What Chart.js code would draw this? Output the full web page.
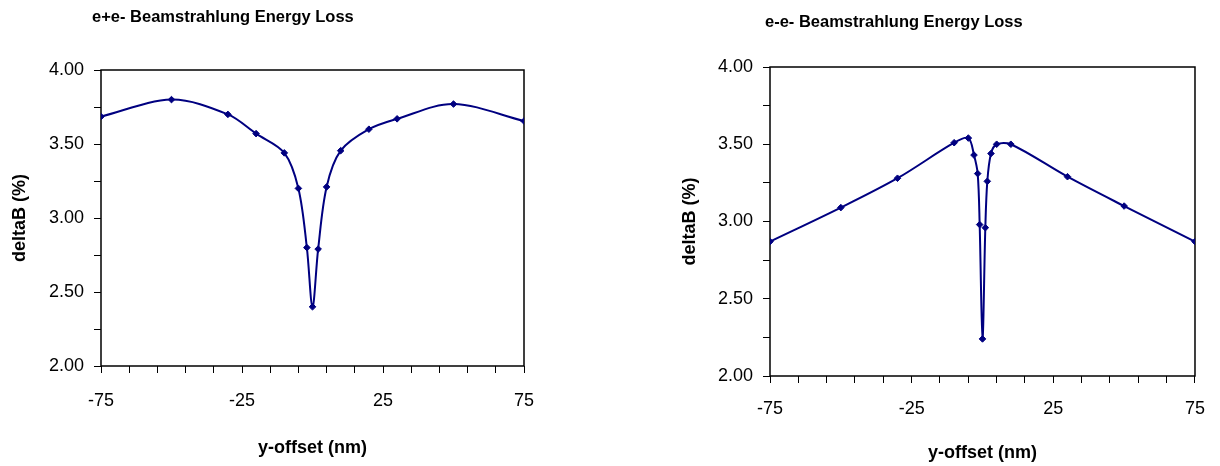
<!DOCTYPE html>
<html>
<head>
<meta charset="utf-8">
<script src="https://cdn.jsdelivr.net/npm/chart.js@4"></script>
<style>
  body { margin: 0; background: #fff; }
  #wrap { position: relative; width: 1220px; height: 466px; }
  canvas { position: absolute; top: 0; }
</style>
</head>
<body>
<div id="wrap">
  <canvas id="chartPlus" width="610" height="466" style="left:0"></canvas>
  <canvas id="chartMinus" width="610" height="466" style="left:610px"></canvas>
</div>
<script>
// e+e- collisions
const plusOffset = [-75, -50, -30, -20, -10, -5, -2, 0, 2, 5, 10, 20, 30, 50, 75];
const plusLoss = [3.685, 3.80, 3.70, 3.57, 3.44, 3.20, 2.80, 2.40, 2.79, 3.21, 3.455, 3.60, 3.67, 3.77, 3.655];

// e-e- collisions
const minusOffset = [-75, -50, -30, -10, -5, -3, -1.7, -1, 0, 1, 1.7, 3, 5, 10, 30, 50, 75];
const minusLoss = [2.87, 3.09, 3.28, 3.51, 3.54, 3.43, 3.31, 2.98, 2.24, 2.96, 3.26, 3.44, 3.50, 3.50, 3.29, 3.10, 2.87];

// tick marks and which of them get a label
const xTicks = [-75, -65, -55, -45, -35, -25, -15, -5, 5, 15, 25, 35, 45, 55, 65, 75];
const xLabels = [-75, -25, 25, 75];
const yTicks = [2.00, 2.25, 2.50, 2.75, 3.00, 3.25, 3.50, 3.75, 4.00];
const yLabels = [2.00, 2.50, 3.00, 3.50, 4.00];

const FONT = "'Liberation Sans', Arial, sans-serif";
const NAVY = '#000080';

// box round the plot area
const framePlugin = {
    id: 'frame',
    beforeDatasetsDraw(chart) {
        const { ctx, chartArea: a } = chart;
        ctx.save();
        ctx.strokeStyle = '#000';
        ctx.lineWidth = 1.5;
        ctx.strokeRect(a.left, a.top, a.right - a.left, a.bottom - a.top);
        ctx.restore();
    }
};

// chart heading, placed like the original
const headingPlugin = {
    id: 'heading',
    afterDraw(chart, args, opts) {
        const ctx = chart.ctx;
        ctx.save();
        ctx.font = 'bold 16.5px ' + FONT;
        ctx.fillStyle = '#000';
        ctx.textAlign = 'left';
        ctx.textBaseline = 'middle';
        ctx.fillText(opts.text, opts.x, opts.y);
        ctx.restore();
    }
};

function makeChart(id, xs, ys, lay) {
    const points = xs.map((x, i) => ({ x: x, y: ys[i] }));
    return new Chart(document.getElementById(id), {
        type: 'line',
        data: {
            datasets: [{
                data: points,
                borderColor: NAVY,
                backgroundColor: NAVY,
                borderWidth: 2,
                tension: 0.33,
                pointStyle: 'rectRot',
                pointRadius: 3.3,
                pointBorderWidth: 1,
                fill: false
            }]
        },
        options: {
            responsive: false,
            animation: false,
            devicePixelRatio: 1,
            layout: { padding: { top: lay.top, right: lay.right, bottom: 0, left: 0 } },
            plugins: {
                legend: { display: false },
                tooltip: { enabled: false },
                heading: { text: lay.title, x: lay.titleX, y: lay.titleY }
            },
            scales: {
                x: {
                    type: 'linear',
                    min: -75,
                    max: 75,
                    afterBuildTicks: s => { s.ticks = xTicks.map(v => ({ value: v })); },
                    afterFit: s => { s.height = lay.xHeight; },
                    grid: { drawOnChartArea: false, drawTicks: true, tickLength: 7, color: '#000', lineWidth: 1 },
                    border: { display: false },
                    ticks: {
                        autoSkip: false,
                        maxRotation: 0,
                        padding: lay.xTickPad,
                        color: '#000',
                        font: { family: FONT, size: 18 },
                        callback: v => xLabels.includes(v) ? String(v) : ''
                    },
                    title: {
                        display: true,
                        text: 'y-offset (nm)',
                        color: '#000',
                        font: { family: FONT, size: 18, weight: 'bold' },
                        padding: { top: 0, bottom: lay.xTitlePad }
                    }
                },
                y: {
                    type: 'linear',
                    min: 2,
                    max: 4,
                    afterBuildTicks: s => { s.ticks = yTicks.map(v => ({ value: v })); },
                    afterFit: s => { s.width = lay.yWidth; },
                    grid: { drawOnChartArea: false, drawTicks: true, tickLength: 7, color: '#000', lineWidth: 1 },
                    border: { display: false },
                    ticks: {
                        autoSkip: false,
                        padding: 10,
                        color: '#000',
                        font: { family: FONT, size: 18 },
                        callback: v => yLabels.includes(v) ? v.toFixed(2) : ''
                    },
                    title: {
                        display: true,
                        text: 'deltaB (%)',
                        color: '#000',
                        font: { family: FONT, size: 18, weight: 'bold' },
                        padding: { top: lay.yTitlePad, bottom: 0 }
                    }
                }
            }
        },
        plugins: [framePlugin, headingPlugin]
    });
}

makeChart('chartPlus', plusOffset, plusLoss, {
    title: 'e+e- Beamstrahlung Energy Loss', titleX: 92, titleY: 17,
    top: 70, right: 86, yWidth: 101, xHeight: 100,
    xTickPad: 17, yTitlePad: 9, xTitlePad: 7
});

makeChart('chartMinus', minusOffset, minusLoss, {
    title: 'e-e- Beamstrahlung Energy Loss', titleX: 155, titleY: 22,
    top: 67, right: 22, yWidth: 160, xHeight: 90,
    xTickPad: 15, yTitlePad: 69, xTitlePad: 2
});
</script>
</body>
</html>
